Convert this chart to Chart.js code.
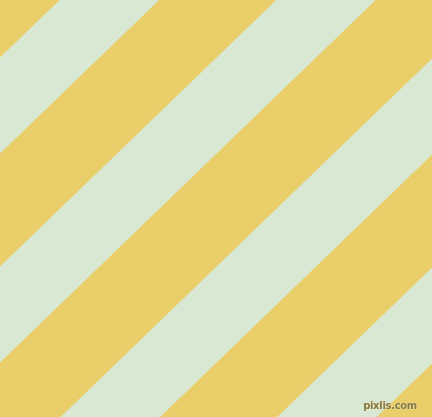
<!DOCTYPE html>
<html>
<head>
<meta charset="utf-8">
<script src="https://cdn.jsdelivr.net/npm/chart.js@4"></script>
<style>
  html, body { margin: 0; padding: 0; background: #D8E8D2; }
  #wrap { position: relative; width: 432px; height: 417px; overflow: hidden; }
  #mark {
    position: absolute; right: 15px; bottom: 6px;
    font: bold 10px "DejaVu Sans", sans-serif; letter-spacing: -0.3px;
    color: #857a48; text-shadow: 0 0 1px #f3e6b0, 0 0 1px #f3e6b0;
  }
</style>
</head>
<body>
<div id="wrap">
  <canvas id="stripes" width="432" height="417"></canvas>
  <div id="mark">pixlis.com</div>
</div>
<script>
// stripe edges, read where each edge meets the left border (y in px, top = 0)
const stripeEdges = [-60, 57, 153, 266, 362, 475, 571, 684, 780, 900];
// colour of the band that ends at each edge (first edge has nothing above it)
const bandColors = [null, '#E9CE6A', '#D8E8D2', '#E9CE6A', '#D8E8D2', '#E9CE6A', '#D8E8D2', '#E9CE6A', '#D8E8D2', '#E9CE6A'];
const edgeSlope = 0.965;   // drop in y per px in x
const xRange = [0, 432];
const yRange = [0, 417];

const datasets = stripeEdges.map((c, i) => ({
    data: xRange.map(x => ({ x: x, y: c - edgeSlope * x })),
    borderWidth: i === 0 ? 0 : 1,
    borderColor: bandColors[i] || 'transparent',
    backgroundColor: bandColors[i] || 'transparent',
    pointRadius: 0,
    tension: 0,
    fill: i === 0 ? false : '-1'
}));

new Chart(document.getElementById('stripes').getContext('2d'), {
    type: 'line',
    data: { datasets: datasets },
    options: {
        responsive: false, animation: false,
        layout: { padding: 0 },
        plugins: { legend: { display: false }, tooltip: { enabled: false } },
        scales: {
            x: { type: 'linear', min: xRange[0], max: xRange[1], display: false },
            y: { type: 'linear', min: yRange[0], max: yRange[1], reverse: true, display: false }
        }
    }
});
</script>
</body>
</html>
